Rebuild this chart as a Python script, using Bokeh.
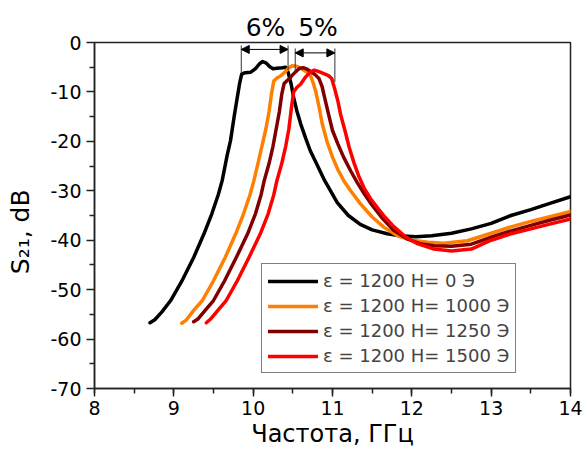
from bokeh.plotting import figure
from bokeh.models import (Legend, LegendItem, Arrow, NormalHead, LinearAxis,
                          SingleIntervalTicker, FixedTicker)
from bokeh.embed import file_html
from bokeh.resources import INLINE

# ---------------- data ----------------
black_f = [8.70, 8.76, 8.85, 8.96, 9.10, 9.25, 9.38, 9.48, 9.56, 9.61, 9.67, 9.715, 9.76, 9.80, 9.83,
           9.855, 9.90, 9.97, 10.03, 10.08, 10.12, 10.16, 10.21, 10.25, 10.30, 10.37, 10.41, 10.44,
           10.48, 10.51, 10.55, 10.60, 10.66, 10.72, 10.81, 10.90, 11.06, 11.20, 11.35, 11.50, 11.69,
           11.85, 12.05, 12.25, 12.50, 12.75, 13.00, 13.25, 13.50, 13.75, 14.00]
black_s = [-56.7, -56.1, -54.5, -52.2, -48.3, -43.5, -38.7, -34.6, -30.8, -27.9, -23.0, -19.8, -15.0,
           -11.1, -8.2, -6.4, -6.1, -6.0, -5.3, -4.3, -3.85, -4.1, -4.9, -5.3, -5.2, -5.1, -5.0, -6.0,
           -8.5, -11.1, -13.8, -16.5, -19.3, -21.9, -24.9, -27.9, -32.4, -35.0, -36.8, -37.9, -38.7,
           -39.1, -39.3, -39.1, -38.6, -37.7, -36.6, -35.0, -33.8, -32.5, -31.2]

orange_f = [9.10, 9.16, 9.25, 9.36, 9.50, 9.65, 9.78, 9.88, 9.96, 10.01, 10.06, 10.11, 10.16, 10.20,
            10.23, 10.26, 10.30, 10.35, 10.40, 10.44, 10.49, 10.55, 10.61, 10.67, 10.72, 10.76, 10.79,
            10.83, 10.87, 10.93, 11.00, 11.07, 11.14, 11.22, 11.35, 11.50, 11.65, 11.82, 12.00, 12.20,
            12.40, 12.70, 13.00, 13.25, 13.50, 13.75, 14.00]
orange_s = [-56.8, -56.1, -54.2, -52.2, -48.2, -43.4, -38.7, -34.6, -30.8, -27.9, -24.5, -21.0, -17.5,
            -14.0, -10.5, -7.8, -7.2, -6.7, -6.0, -5.3, -4.7, -4.8, -5.3, -5.9, -6.6, -8.3, -10.0,
            -13.0, -16.4, -20.0, -23.2, -25.8, -27.9, -29.8, -32.6, -35.3, -37.4, -39.1, -40.0, -40.4,
            -40.6, -40.1, -38.6, -37.3, -36.2, -35.2, -34.2]

darkred_f = [9.25, 9.30, 9.40, 9.50, 9.64, 9.79, 9.93, 10.03, 10.10, 10.14, 10.20, 10.25, 10.29, 10.33,
             10.36, 10.39, 10.45, 10.50, 10.55, 10.59, 10.63, 10.68, 10.73, 10.78, 10.83, 10.87, 10.90,
             10.95, 11.00, 11.07, 11.14, 11.23, 11.31, 11.40, 11.48, 11.62, 11.77, 11.95, 12.10, 12.28,
             12.50, 12.75, 13.00, 13.25, 13.50, 13.75, 14.00]
darkred_s = [-56.5, -56.0, -54.1, -52.2, -48.2, -43.4, -38.7, -34.6, -30.8, -27.9, -24.5, -21.0, -17.5,
             -14.0, -10.5, -8.3, -7.4, -6.5, -5.7, -5.2, -5.1, -5.4, -5.9, -6.5, -7.3, -9.0, -11.1,
             -14.5, -17.8, -20.6, -23.2, -26.0, -28.3, -30.6, -32.5, -35.4, -38.0, -39.8, -40.7, -41.1,
             -41.2, -40.8, -39.4, -38.1, -37.0, -35.9, -34.9]

red_f = [9.41, 9.46, 9.56, 9.66, 9.80, 9.95, 10.09, 10.19, 10.26, 10.30, 10.36, 10.41, 10.45, 10.48,
         10.51, 10.55, 10.60, 10.66, 10.72, 10.77, 10.83, 10.89, 10.95, 10.99, 11.03, 11.07, 11.10,
         11.16, 11.21, 11.27, 11.33, 11.40, 11.48, 11.56, 11.66, 11.77, 11.92, 12.07, 12.28, 12.50,
         12.75, 13.00, 13.25, 13.50, 13.75, 14.00]
red_s = [-56.7, -56.0, -54.1, -52.2, -48.2, -43.4, -38.7, -34.6, -30.8, -27.9, -24.5, -21.0, -17.5,
         -13.5, -10.0, -9.1, -8.4, -7.0, -6.0, -5.6, -5.9, -6.3, -6.7, -7.3, -9.5, -12.0, -14.4,
         -18.0, -21.2, -24.3, -27.0, -29.5, -31.6, -33.3, -35.3, -37.2, -39.3, -40.7, -41.8, -42.2,
         -41.8, -40.0, -38.7, -37.7, -36.7, -35.7]

series_labels = ["ε = 1200 H= 0 Э", "ε = 1200 H= 1000 Э", "ε = 1200 H= 1250 Э", "ε = 1200 H= 1500 Э"]
series_colors = ["#000000", "#FF8000", "#800000", "#FF0000"]

y_tick_values = [-70, -60, -50, -40, -30, -20, -10, 0]
y_tick_labels = ["-70", "-60", "-50", "-40", "-30", "-20", "-10", "0"]
y_minor_values = [-65, -55, -45, -35, -25, -15, -5]

x_title = "Частота, ГГц"
y_title = "S₂₁, dB"
y_title_at = -38.3

# bandwidth annotations
band_text = ["6%", "5%"]
band_text_x = [10.156, 10.817]
band_left = [9.85, 10.53]
band_right = [10.44, 11.03]
band_arrow_y = [-1.4, -2.1]
vline_x = [9.85, 10.44, 10.53, 11.03]
vline_top = [-0.6, -0.6, -1.2, -1.2]
vline_bottom = [-6.3, -5.6, -6.0, -8.0]

FONT = "DejaVu Sans"
AX = "#222222"

# ---------------- figure ----------------
p = figure(width=584, height=452, x_range=(8, 14), y_range=(-70, 0),
           output_backend="svg", toolbar_location=None,
           min_border_left=94, min_border_right=14, min_border_top=42, min_border_bottom=64)

p.grid.visible = False
p.outline_line_color = AX
p.outline_line_width = 1.5
p.background_fill_color = "white"
p.border_fill_color = "white"

p.xaxis.ticker = SingleIntervalTicker(interval=1, num_minor_ticks=2)
p.yaxis.ticker = FixedTicker(ticks=y_tick_values, minor_ticks=y_minor_values)
p.yaxis.major_label_overrides = dict(zip(y_tick_values, y_tick_labels))

for ax in (p.xaxis[0], p.yaxis[0]):
    ax.axis_line_width = 1.5
    ax.axis_line_color = AX
    ax.major_tick_line_width = 1.5
    ax.minor_tick_line_width = 1.5
    ax.major_tick_line_color = AX
    ax.minor_tick_line_color = AX
    ax.major_tick_in = 0
    ax.major_tick_out = 8
    ax.minor_tick_in = 0
    ax.minor_tick_out = 5
    ax.major_label_text_font = FONT
    ax.major_label_text_font_size = "19px"
    ax.major_label_text_color = "black"
p.xaxis.major_label_standoff = 4
p.yaxis.major_label_standoff = 5

p.xaxis.axis_label = x_title
p.xaxis.axis_label_text_font = FONT
p.xaxis.axis_label_text_font_size = "24px"
p.xaxis.axis_label_text_font_style = "normal"
p.xaxis.axis_label_text_color = "black"
p.xaxis.axis_label_standoff = 2

# y title as an outer left axis so that it sits where the reference has it
ytitle_axis = LinearAxis(ticker=FixedTicker(ticks=[y_title_at]),
                         major_label_overrides={y_title_at: y_title},
                         major_label_orientation="parallel",
                         axis_line_color=None, major_tick_line_color=None,
                         minor_tick_line_color=None, major_tick_in=0, major_tick_out=0,
                         minor_tick_in=0, minor_tick_out=0, major_label_standoff=12,
                         major_label_text_font=FONT, major_label_text_font_size="25px",
                         major_label_text_color="black")
p.add_layout(ytitle_axis, "left")

# bandwidth labels as an axis above the frame
band_axis = LinearAxis(ticker=FixedTicker(ticks=band_text_x),
                       major_label_overrides=dict(zip(band_text_x, band_text)),
                       axis_line_color=None, major_tick_line_color=None,
                       minor_tick_line_color=None, major_tick_in=0, major_tick_out=0,
                       minor_tick_in=0, minor_tick_out=0, major_label_standoff=1,
                       major_label_text_font=FONT, major_label_text_font_size="25px",
                       major_label_text_color="black")
p.add_layout(band_axis, "above")

# curves
curves = [(black_f, black_s), (orange_f, orange_s), (darkred_f, darkred_s), (red_f, red_s)]
renderers = []
for (fx, sy), col in zip(curves, series_colors):
    r = p.line(fx, sy, line_color=col, line_width=3.5, line_join="round", line_cap="round")
    renderers.append(r)

# vertical guide lines and arrows
p.segment(x0=vline_x, y0=vline_top, x1=vline_x, y1=vline_bottom, line_color="#333333", line_width=1)
for xl, xr, ya in zip(band_left, band_right, band_arrow_y):
    p.add_layout(Arrow(start=NormalHead(size=8, fill_color="black", line_color="black"),
                       end=NormalHead(size=8, fill_color="black", line_color="black"),
                       x_start=xl, y_start=ya, x_end=xr, y_end=ya,
                       line_color="black", line_width=1))

# legend
legend = Legend(items=[LegendItem(label=lab, renderers=[r]) for lab, r in zip(series_labels, renderers)],
                location=(167, 15))
legend.label_text_font = FONT
legend.label_text_font_size = "18px"
legend.glyph_width = 50
legend.glyph_height = 20
legend.label_height = 20
legend.label_standoff = 5
legend.spacing = 4
legend.padding = 6
legend.margin = 0
legend.border_line_color = "black"
legend.border_line_width = 1.2
legend.background_fill_alpha = 1
p.add_layout(legend)

open("out.html", "w").write(file_html(p, INLINE))
